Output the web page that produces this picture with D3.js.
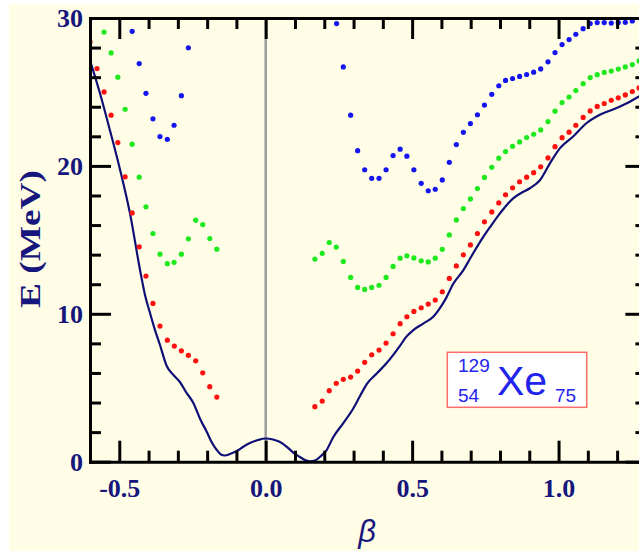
<!DOCTYPE html>
<html><head><meta charset="utf-8">
<script src="https://cdn.jsdelivr.net/npm/d3@7"></script>
<style>html,body{margin:0;padding:0;background:#fff;overflow:hidden}</style>
</head><body><svg id="c" width="639" height="553"></svg>
<script>
// ---- data (β, E in MeV) ----
const curveBeta = [-0.600,-0.566,-0.532,-0.497,-0.463,-0.429,-0.412,-0.395,-0.378,-0.361,-0.338,-0.315,-0.293,-0.272,-0.247,-0.224,-0.201,-0.183,-0.167,-0.153,-0.139,-0.122,-0.099,-0.078,-0.054,-0.026,0.000,0.025,0.049,0.073,0.094,0.117,0.134,0.151,0.168,0.185,0.208,0.231,0.265,0.299,0.322,0.345,0.379,0.413,0.435,0.459,0.479,0.504,0.538,0.572,0.595,0.616,0.640,0.675,0.698,0.743,0.766,0.800,0.845,0.875,0.902,0.937,0.971,1.005,1.050,1.096,1.141,1.198,1.237,1.275,1.298];
const curveE    = [27.14,24.91,22.41,19.71,16.74,12.95,11.26,10.05,8.90,7.89,6.47,5.86,5.39,4.71,3.97,2.89,2.01,1.26,0.79,0.49,0.42,0.52,0.72,0.99,1.26,1.47,1.57,1.50,1.33,0.99,0.62,0.32,0.11,0.03,0.08,0.32,0.79,1.67,2.61,3.60,4.44,5.25,5.96,6.67,7.21,7.85,8.42,8.90,9.34,9.80,10.39,11.06,12.01,12.95,13.74,15.20,15.86,16.79,17.81,18.20,18.49,19.05,20.19,21.20,21.99,22.90,23.46,23.91,24.27,24.70,24.95];

const redBeta = [-0.600,-0.576,-0.552,-0.528,-0.505,-0.480,-0.456,-0.432,-0.409,-0.385,-0.361,-0.336,-0.312,-0.288,-0.264,-0.239,-0.215,-0.191,-0.167,
  0.168,0.193,0.217,0.241,0.265,0.290,0.314,0.338,0.362,0.387,0.411,0.435,0.459,0.482,0.506,0.531,0.555,0.579,0.603,0.627,0.651,0.675,0.699,0.723,0.747,0.772,0.796,0.819,0.843,0.867,0.891,0.915,0.939,0.964,0.988,1.012,1.036,1.059,1.084,1.108,1.132,1.156,1.180,1.204,1.228,1.252,1.275];
const redE = [28.38,26.58,25.00,23.43,21.58,19.26,16.82,14.53,12.55,10.70,9.17,8.22,7.82,7.50,7.19,6.82,6.01,5.07,4.37,
  3.72,4.10,4.80,5.30,5.57,5.72,6.13,6.72,7.23,7.55,8.02,8.65,9.33,9.80,10.16,10.41,10.66,10.93,11.49,12.39,13.24,13.99,14.66,15.43,16.22,16.89,17.50,18.05,18.52,18.93,19.24,19.54,19.94,20.54,21.30,21.91,22.28,22.75,23.28,23.72,24.02,24.22,24.44,24.60,24.80,25.03,25.27];

const greenBeta = [-0.552,-0.528,-0.505,-0.480,-0.456,-0.432,-0.409,-0.385,-0.361,-0.336,-0.313,-0.288,-0.264,-0.239,-0.215,-0.191,-0.167,
  0.168,0.193,0.217,0.241,0.265,0.290,0.314,0.338,0.362,0.387,0.411,0.435,0.459,0.482,0.506,0.531,0.555,0.579,0.603,0.627,0.651,0.675,0.699,0.723,0.747,0.772,0.796,0.819,0.843,0.867,0.891,0.915,0.939,0.964,0.988,1.012,1.036,1.059,1.084,1.108,1.132,1.156,1.180,1.204,1.228,1.252,1.275];
const greenE = [29.05,27.64,26.00,23.83,21.47,19.24,17.23,15.43,14.03,13.39,13.48,14.03,15.07,16.33,16.03,15.09,14.37,
  13.70,14.08,14.82,14.51,13.54,12.46,11.78,11.65,11.78,11.93,12.46,13.20,13.76,13.92,13.78,13.58,13.51,13.76,14.36,15.33,16.35,17.12,17.77,18.47,19.22,19.91,20.52,20.97,21.33,21.62,21.92,22.14,22.43,23.00,23.70,24.28,24.66,25.09,25.56,25.97,26.17,26.32,26.41,26.55,26.69,26.85,27.10];

const blueBeta = [-0.456,-0.432,-0.409,-0.385,-0.361,-0.336,-0.313,-0.288,-0.264,
  0.242,0.265,0.290,0.314,0.338,0.362,0.387,0.411,0.435,0.459,0.482,0.506,0.531,0.555,0.579,0.603,0.627,0.651,0.675,0.699,0.723,0.747,0.772,0.796,0.819,0.843,0.867,0.891,0.915,0.939,0.964,0.988,1.012,1.036,1.059,1.084,1.108,1.132,1.156,1.180,1.204,1.228,1.252];
const blueE = [29.10,26.92,24.91,23.18,21.98,21.80,22.75,24.75,27.99,
  29.62,26.69,23.43,21.03,19.74,19.16,19.16,19.74,20.70,21.13,20.66,19.74,18.82,18.32,18.42,19.05,20.24,21.44,22.27,22.86,23.46,24.11,24.84,25.42,25.78,25.91,26.05,26.18,26.34,26.56,27.04,27.66,28.20,28.54,28.90,29.28,29.62,29.69,29.69,29.66,29.69,29.71,29.80];

const xMajorTicks = [-0.5, 0.0, 0.5, 1.0];
const xTickLabels = ["-0.5", "0.0", "0.5", "1.0"];
const xMinorTicks = [-0.6,-0.4,-0.3,-0.2,-0.1,0.1,0.2,0.3,0.4,0.6,0.7,0.8,0.9,1.1,1.2,1.3];
const yMajorTicks = [0, 10, 20, 30];
const yTickLabels = ["0", "10", "20", "30"];
const yMinorTicks = [2,4,6,8,12,14,16,18,22,24,26,28];

// ---- layout ----
const svg = d3.select("#c");
const L = 90, R = 646.4, T = 18, B = 461.7;
const x = d3.scaleLinear().domain([-0.6, 1.3]).range([L, R]);
const y = d3.scaleLinear().domain([0, 30]).range([B, T]);
const navy = "#16167c";

svg.append("rect").attr("x", 9).attr("y", 4).attr("width", 640).attr("height", 547).attr("fill", "#fffde5");

svg.append("defs").append("clipPath").attr("id", "clip")
  .append("rect").attr("x", L).attr("y", T).attr("width", R - L).attr("height", B - T);

// zero line
svg.append("line").attr("x1", x(0)).attr("x2", x(0)).attr("y1", y(30)).attr("y2", y(0))
  .attr("stroke", "#9c9c9c").attr("stroke-width", 2.5);

const plot = svg.append("g").attr("clip-path", "url(#clip)");

const curve = curveBeta.map((b, i) => [b, curveE[i]]);
plot.append("path").datum(curve)
  .attr("d", d3.line().x(d => x(d[0])).y(d => y(d[1])).curve(d3.curveMonotoneX))
  .attr("fill", "none").attr("stroke", "#0f0f78").attr("stroke-width", 2.2);

function dots(bs, es, color) {
  plot.append("g").selectAll("circle").data(bs.map((b, i) => [b, es[i]])).join("circle")
    .attr("cx", d => x(d[0])).attr("cy", d => y(d[1])).attr("r", 2.6).attr("fill", color);
}
dots(redBeta, redE, "#ff1010");
dots(greenBeta, greenE, "#1ee81e");
dots(blueBeta, blueE, "#1515f0");

// ---- axes ----
function style(g) {
  g.select(".domain").attr("stroke", "#000").attr("stroke-width", 3).attr("stroke-linecap", "square");
  g.selectAll(".tick line").attr("stroke", "#000").attr("stroke-width", 3);
  g.selectAll(".tick text").attr("fill", navy).attr("font-family", "'Liberation Serif', 'Times New Roman', serif")
    .attr("font-weight", "bold").attr("font-size", 26);
}
function minor(g) { g.select(".domain").remove(); g.selectAll(".tick line").attr("stroke", "#000").attr("stroke-width", 3); g.selectAll(".tick text").remove(); }

svg.append("g").attr("transform", `translate(0,${B})`)
  .call(d3.axisBottom(x).tickValues(xMinorTicks).tickSize(-11).tickSizeOuter(0)).call(minor);
svg.append("g").attr("transform", `translate(0,${T})`)
  .call(d3.axisTop(x).tickValues(xMinorTicks).tickSize(-11).tickSizeOuter(0)).call(minor);
svg.append("g").attr("transform", `translate(${L},0)`)
  .call(d3.axisLeft(y).tickValues(yMinorTicks).tickSize(-11).tickSizeOuter(0)).call(minor);
svg.append("g").attr("transform", `translate(${R},0)`)
  .call(d3.axisRight(y).tickValues(yMinorTicks).tickSize(-11).tickSizeOuter(0)).call(minor);

svg.append("g").attr("transform", `translate(0,${B})`)
  .call(d3.axisBottom(x).tickValues(xMajorTicks).tickSize(-21).tickSizeOuter(0).tickPadding(17)
    .tickFormat((d, i) => xTickLabels[i])).call(style);
svg.append("g").attr("transform", `translate(0,${T})`)
  .call(d3.axisTop(x).tickValues(xMajorTicks).tickSize(-21).tickSizeOuter(0).tickFormat("")).call(style);
svg.append("g").attr("transform", `translate(${L},0)`)
  .call(d3.axisLeft(y).tickValues(yMajorTicks).tickSize(-21).tickSizeOuter(0).tickPadding(7)
    .tickFormat((d, i) => yTickLabels[i])).call(style);
svg.append("g").attr("transform", `translate(${R},0)`)
  .call(d3.axisRight(y).tickValues(yMajorTicks).tickSize(-21).tickSizeOuter(0).tickFormat("")).call(style);

// ---- titles ----
svg.append("text").attr("transform", "translate(40,239) rotate(-90)")
  .attr("text-anchor", "middle").attr("fill", navy)
  .attr("font-family", "'Liberation Serif', 'Times New Roman', serif").attr("font-weight", "bold")
  .attr("font-size", 30).attr("textLength", 138).attr("lengthAdjust", "spacingAndGlyphs")
  .text("E (MeV)");
svg.append("text").attr("x", 367).attr("y", 542).attr("text-anchor", "middle").attr("fill", navy)
  .attr("font-family", "'Liberation Sans', Arial, sans-serif").attr("font-style", "italic")
  .attr("font-size", 31).text("β");

// ---- nucleus label ----
const lab = svg.append("g");
lab.append("rect").attr("x", 447.3).attr("y", 352.3).attr("width", 139.4).attr("height", 55)
  .attr("fill", "#fff").attr("stroke", "#ff6a6a").attr("stroke-width", 1.5);
const lf = "'Liberation Sans', Arial, sans-serif", lc = "#2323ee";
lab.append("text").attr("x", 458).attr("y", 371.7).attr("font-size", 19).attr("font-family", lf).attr("fill", lc).text("129");
lab.append("text").attr("x", 458).attr("y", 401.7).attr("font-size", 19).attr("font-family", lf).attr("fill", lc).text("54");
lab.append("text").attr("x", 497).attr("y", 395).attr("font-size", 41).attr("font-family", lf).attr("fill", lc).text("Xe");
lab.append("text").attr("x", 555).attr("y", 401.7).attr("font-size", 19).attr("font-family", lf).attr("fill", lc).text("75");
</script></body></html>
